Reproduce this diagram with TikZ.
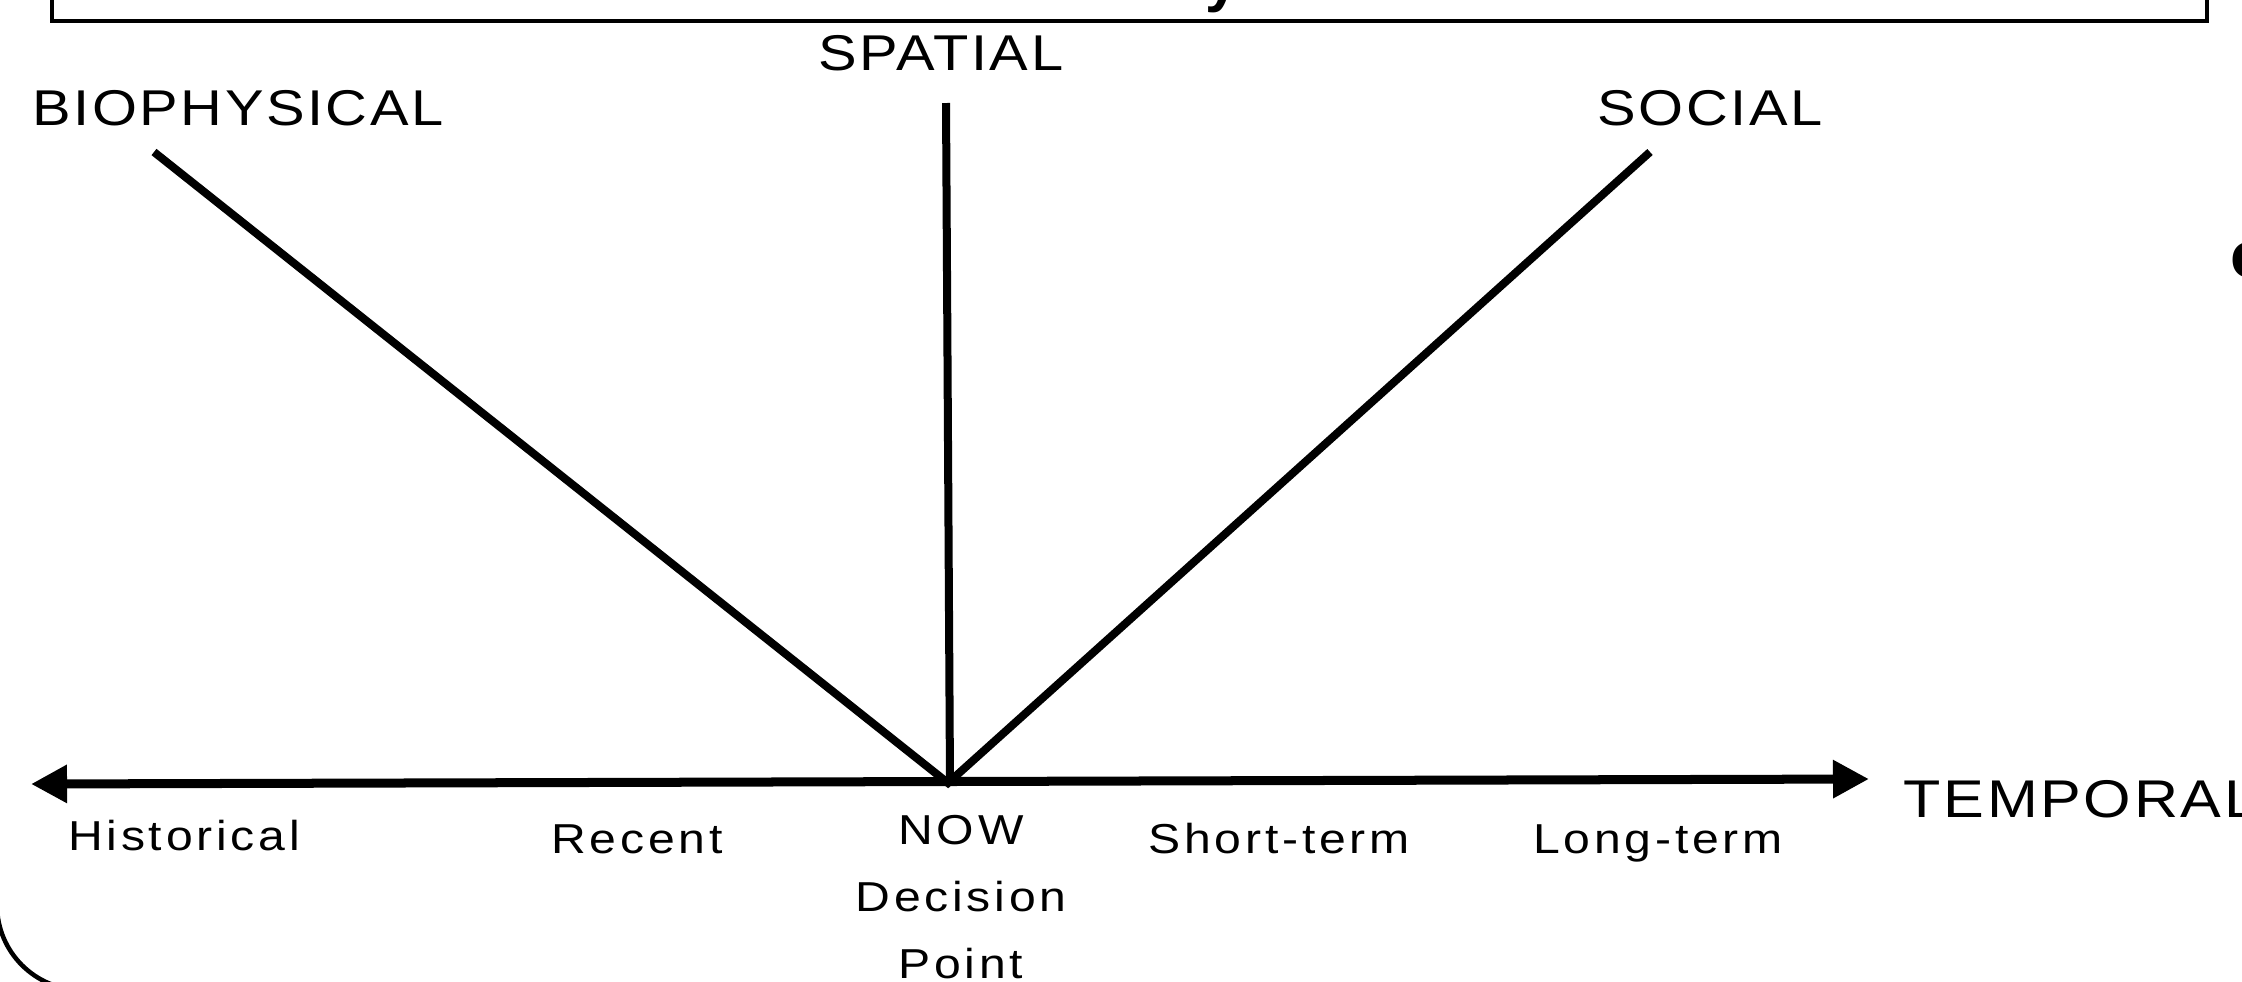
\documentclass[tikz,border=0pt]{standalone}
\usepackage{fontspec}
\setmainfont{Liberation Sans}
\newfontfamily\axisfont[FakeStretch=1.15,LetterSpace=5]{Liberation Sans}
\newfontfamily\tickfont[FakeStretch=1.15,LetterSpace=9]{Liberation Sans}
\usetikzlibrary{arrows.meta,positioning}
\tikzset{
  axislabel/.style={font=\axisfont\fontsize{14.3}{17}\selectfont, inner sep=0pt, anchor=base},
  ticklabel/.style={font=\tickfont\fontsize{11.9}{19}\selectfont, inner sep=0pt,
    anchor=base, align=center},
  cutglyph/.style={font=\bfseries\fontsize{17}{20}\selectfont, inner sep=0pt, anchor=base},
  spoke/.style={line width=0.08cm, draw=black},
  timeaxis/.style={line width=0.09cm, draw=black,
    {Triangle[length=0.36cm,width=0.36cm]}-{Triangle[length=0.36cm,width=0.36cm]}},
  frame/.style={line width=0.045cm, draw=black}
}
\begin{document}
\begin{tikzpicture}[x=0.01cm,y=-0.01cm]
  \useasboundingbox[fill=white] (0,0) rectangle (2242,981);
  % frames cut by the page edge
  \draw[frame] (52,-20) |- (2207,21) -- (2207,-20);
  \draw[frame, rounded corners=0.85cm] (-3,700) |- (600,990);
  \node[cutglyph] (titley) at (1222,0) {y};
  \node[cutglyph, font=\bfseries\fontsize{18.6}{22}\selectfont, anchor=base west] (sideo) at (2230,277) {o};

  % axes
  \coordinate (now) at (948,783);
  \coordinate (past) at (31,784);
  \coordinate (future) at (1869,779);
  \coordinate (bioend) at (154,152);
  \coordinate (spaend) at (946,103);
  \coordinate (socend) at (1650,152);
  \draw[timeaxis] (past) -- (future);
  \draw[spoke] (bioend) -- (now) -- (socend);
  \draw[spoke] (spaend) -- (950,783);

  % dimension labels
  \node[axislabel] (biophysical) at (238,125) {BIOPHYSICAL};
  \node[axislabel] (spatial) at (941,70) {SPATIAL};
  \node[axislabel] (social) at (1710,125) {SOCIAL};
  \node[axislabel, font=\axisfont\fontsize{15.1}{18}\selectfont, anchor=base west]
    (temporal) at (1903,817) {TEMPORAL};

  % time labels
  \node[ticklabel] (historical) at (184,850) {Historical};
  \node[ticklabel] (recent) at (637,853) {Recent};
  \node[ticklabel, anchor=north] (decision) at (961,815) {NOW\\Decision\\Point};
  \node[ticklabel] (shortterm) at (1279,853) {Short-term};
  \node[ticklabel] (longterm) at (1658,853) {Long-term};
\end{tikzpicture}
\end{document}
